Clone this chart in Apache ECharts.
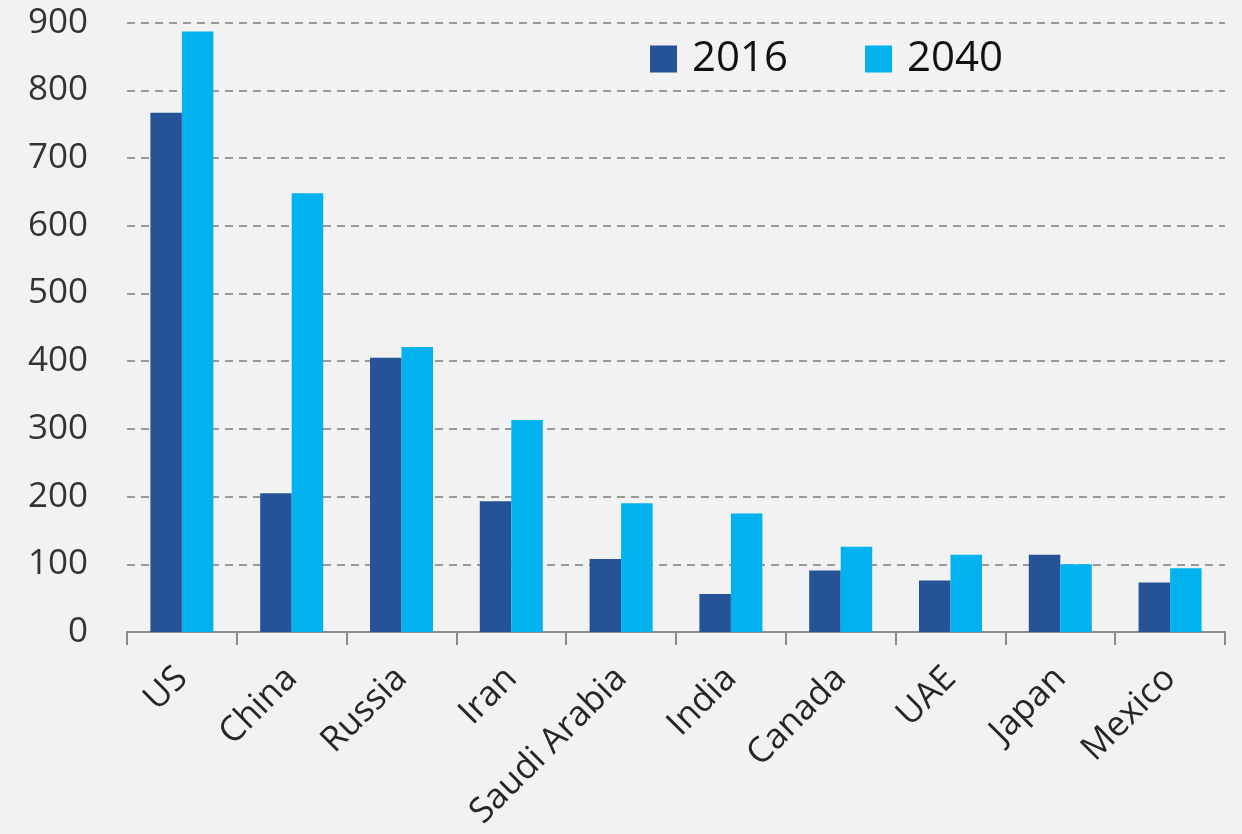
<!DOCTYPE html>
<html>
<head>
<meta charset="utf-8">
<script src="https://cdn.jsdelivr.net/npm/echarts@6/dist/echarts.min.js"></script>
<style>
html,body{margin:0;padding:0;background:#F2F2F2;}
#chart{width:1242px;height:834px;}
</style>
</head>
<body>
<div id="chart"></div>
<script>
const categories = ['US','China','Russia','Iran','Saudi Arabia','India','Canada','UAE','Japan','Mexico'];
const seriesNames = ['2016','2040'];
const values2016 = [767,205,405,193,108,56,91,76,114,73];
const values2040 = [887,648,421,313,190,175,126,114,100,94];
const yTicks = [0,100,200,300,400,500,600,700,800,900];

const chart = echarts.init(document.getElementById('chart'));
const font = '"Open Sans", "Liberation Sans", sans-serif';
chart.setOption({
  backgroundColor: '#F2F2F2',
  animation: false,
  grid: {left: 127, right: 17, top: 22.7, bottom: 202, containLabel: false, outerBoundsMode: 'none'},
  legend: {
    data: seriesNames,
    left: 645, top: 32,
    itemWidth: 27, itemHeight: 27, itemGap: 77,
    icon: 'rect',
    textStyle: {fontFamily: font, fontSize: 42, color: '#111', padding: [0,0,0,10], lineHeight: 44}
  },
  xAxis: {
    type: 'category',
    data: categories,
    boundaryGap: true,
    axisLine: {show: true, lineStyle: {color: '#8c8c8c', width: 2}},
    axisTick: {show: true, length: 13, lineStyle: {color: '#8c8c8c', width: 2}},
    axisLabel: {rotate: 45, margin: 41, fontFamily: font, fontSize: 35, color: '#262626', interval: 0}
  },
  yAxis: {
    type: 'value',
    min: yTicks[0], max: yTicks[yTicks.length-1], interval: 100,
    axisLine: {show: false},
    axisTick: {show: false},
    splitLine: {show: true, lineStyle: {color: '#999999', width: 2, type: [8, 6]}},
    axisLabel: {margin: 39, fontFamily: font, fontSize: 35, color: '#333333'}
  },
  series: [
    {name: seriesNames[0], type: 'bar', data: values2016, barWidth: 31.5, barGap: '0%',
     itemStyle: {color: '#265396'}},
    {name: seriesNames[1], type: 'bar', data: values2040, barWidth: 31.5,
     itemStyle: {color: '#00B2EE'}}
  ]
});
</script>
</body>
</html>
